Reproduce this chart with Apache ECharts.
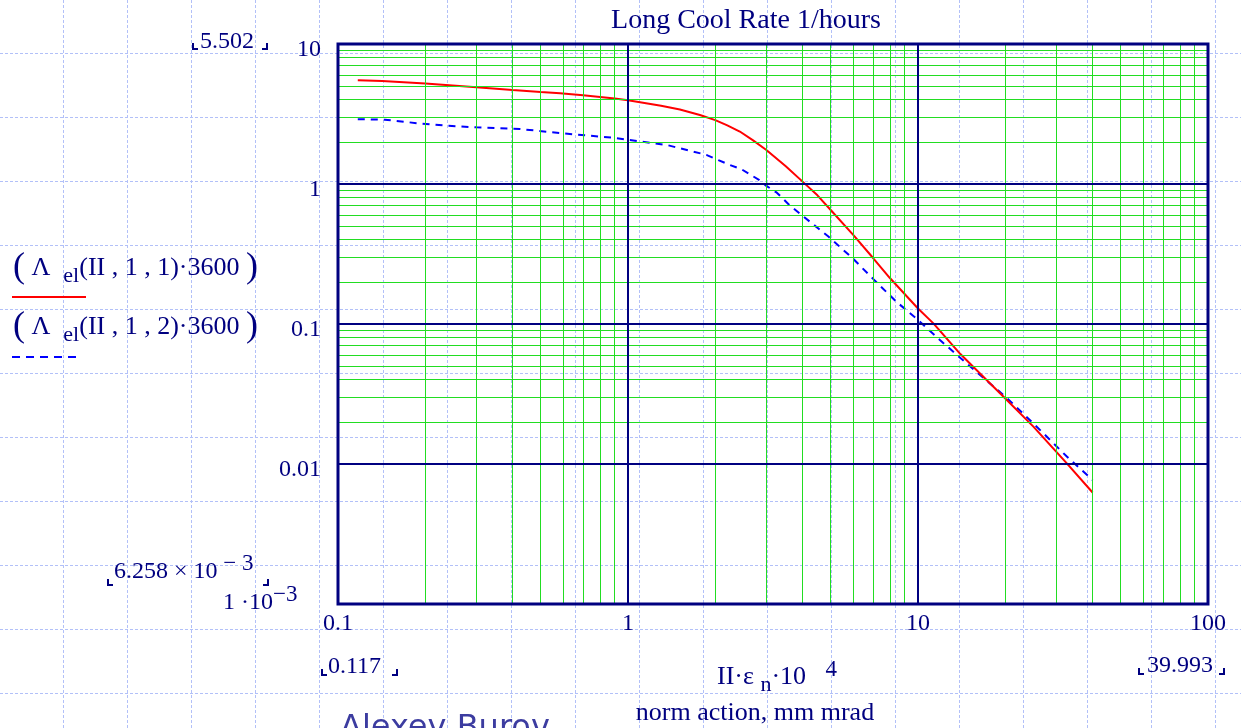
<!DOCTYPE html>
<html>
<head>
<meta charset="utf-8">
<script src="https://cdn.jsdelivr.net/npm/echarts@6/dist/echarts.min.js"></script>
<style>
html,body{margin:0;padding:0;background:#fff;}
#chart{width:1241px;height:728px;}
</style>
</head>
<body>
<div id="chart"></div>
<script>
// ---- data ----
const redX = [0.117, 0.142, 0.2, 0.3, 0.4, 0.5, 0.583, 0.7, 0.9, 1.0, 1.3, 1.51, 1.77, 2.0, 2.2, 2.43, 2.7, 3.0, 3.5, 4.0, 4.5, 5.0, 6.0, 7.0, 8.0, 10, 11.3, 14, 17, 20, 25, 32.6, 39.993];
const redY = [5.502, 5.45, 5.22, 4.91, 4.69, 4.54, 4.45, 4.30, 4.08, 3.96, 3.62, 3.41, 3.11, 2.86, 2.62, 2.37, 2.05, 1.75, 1.34, 1.04, 0.83, 0.652, 0.43, 0.296, 0.213, 0.129, 0.101, 0.061, 0.041, 0.0294, 0.0185, 0.0101, 0.006258];
const blueX = [0.117, 0.145, 0.187, 0.237, 0.3, 0.424, 0.6, 0.74, 0.89, 1.0, 1.36, 1.51, 1.67, 1.87, 2.05, 2.24, 2.47, 2.83, 3.0, 3.26, 3.6, 4.38, 4.92, 6.0, 7.0, 8.4, 10, 11.9, 14.7, 20, 25, 32.6, 39.993];
const blueY = [2.90, 2.88, 2.72, 2.61, 2.54, 2.47, 2.30, 2.21, 2.14, 2.07, 1.90, 1.80, 1.71, 1.61, 1.48, 1.37, 1.27, 1.07, 0.97, 0.867, 0.708, 0.509, 0.42, 0.29, 0.21, 0.145, 0.107, 0.0769, 0.0524, 0.0303, 0.0195, 0.0113, 0.0077];
const xDecades = [0.1, 1, 10];
const yDecades = [0.001, 0.01, 0.1, 1];
const xMajor = [1, 10];
const yMajor = [0.01, 0.1, 1];
const minorMults = [2, 3, 4, 5, 6, 7, 8, 9];
const titleText = 'Long Cool Rate 1/hours';
const xLabel2 = 'norm action, mm mrad';
const authorText = 'Alexey Burov';

const NAVY = '#000080';
const SERIF = '"Liberation Serif", "Times New Roman", serif';

const pair = (xs, ys) => xs.map((x, i) => [x, ys[i]]);
const minorX = [], minorY = [];
xDecades.forEach(d => minorMults.forEach(m => minorX.push({ xAxis: +(d * m).toPrecision(3) })));
yDecades.forEach(d => minorMults.forEach(m => minorY.push({ yAxis: +(d * m).toPrecision(3) })));
const majorLines = xMajor.map(v => ({ xAxis: v })).concat(yMajor.map(v => ({ yAxis: v })));

// worksheet background grid (decoration)
const PG = '#b2c0f8';
const pageGrid = [];
for (let x = 63; x < 1241; x += 64) pageGrid.push({ type: 'line', z: -10, silent: true, shape: { x1: x + 0.5, y1: 0, x2: x + 0.5, y2: 728 }, style: { stroke: PG, lineWidth: 1, lineDash: [3, 2] } });
for (let y = 53; y < 728; y += 64) pageGrid.push({ type: 'line', z: -10, silent: true, shape: { x1: 0, y1: y + 0.5, x2: 1241, y2: y + 0.5 }, style: { stroke: PG, lineWidth: 1, lineDash: [3, 2] } });

function bracket(x1, x2, y, h) {
  return [
    { type: 'polyline', shape: { points: [[x1, y - h], [x1, y], [x1 + 5, y]] }, style: { stroke: NAVY, lineWidth: 2, fill: null } },
    { type: 'polyline', shape: { points: [[x2 - 5, y], [x2, y], [x2, y - h]] }, style: { stroke: NAVY, lineWidth: 2, fill: null } }
  ];
}

const rich = {
  t: { fontFamily: SERIF, fontSize: 24, fill: NAVY },
  L: { fontFamily: SERIF, fontSize: 26, fill: NAVY },
  p: { fontFamily: SERIF, fontSize: 36, fill: NAVY },
  s: { fontFamily: SERIF, fontSize: 22, fill: NAVY, padding: [16, 0, 0, 0] },
  sup: { fontFamily: SERIF, fontSize: 23, fill: NAVY, padding: [0, 0, 16, 0] }
};

const chart = echarts.init(document.getElementById('chart'), null, { renderer: 'canvas' });
chart.setOption({
  animation: false,
  backgroundColor: '#ffffff',
  grid: { left: 338, top: 44, width: 870, height: 560, show: true, z: 10, borderColor: NAVY, borderWidth: 3, backgroundColor: 'transparent' },
  xAxis: {
    type: 'log', logBase: 10, min: 0.1, max: 100, splitNumber: 3,
    axisLine: { show: false }, axisTick: { show: false }, splitLine: { show: false },
    axisLabel: { color: NAVY, fontFamily: SERIF, fontSize: 24, margin: 8, formatter: v => String(+(+v).toPrecision(4)) }
  },
  yAxis: {
    type: 'log', logBase: 10, min: 0.001, max: 10, splitNumber: 4,
    axisLine: { show: false }, axisTick: { show: false }, splitLine: { show: false },
    axisLabel: {
      margin: 17,
      formatter: v => { const n = +(+v).toPrecision(4); return n < 0.005 ? '' : '{a|' + n + '}'; },
      rich: { a: { color: NAVY, fontFamily: SERIF, fontSize: 24, padding: [12, 0, 0, 0] } }
    }
  },
  series: [
    {
      name: 'minor', type: 'line', z: 1, silent: true, data: [], symbol: 'none',
      markLine: {
        silent: true, symbol: ['none', 'none'], label: { show: false }, animation: false,
        lineStyle: { color: '#22dd22', width: 1, type: 'solid' }, emphasis: { disabled: true },
        data: minorX.concat(minorY)
      }
    },
    {
      name: 'major', type: 'line', z: 2, silent: true, data: [], symbol: 'none',
      markLine: {
        silent: true, symbol: ['none', 'none'], label: { show: false }, animation: false,
        lineStyle: { color: NAVY, width: 2, type: 'solid' }, emphasis: { disabled: true },
        data: majorLines
      }
    },
    {
      name: 'blue', type: 'line', z: 3, data: pair(blueX, blueY), symbol: 'none',
      lineStyle: { color: '#0000ff', width: 2, type: [7, 6] }
    },
    {
      name: 'red', type: 'line', z: 4, data: pair(redX, redY), symbol: 'none',
      lineStyle: { color: '#ff0000', width: 2 }
    }
  ],
  graphic: pageGrid.concat([
    { type: 'text', x: 746, y: 21, style: { text: titleText, font: '28px ' + SERIF, fill: NAVY, align: 'center', verticalAlign: 'middle' } },
    // legend
    { type: 'text', x: 13, y: 268, style: { text: '{p|(}{L| Λ  }{s|el}{L|(II , 1 , 1)·3600 }{p|)}', rich: rich, verticalAlign: 'middle' } },
    { type: 'line', shape: { x1: 12, y1: 297, x2: 86, y2: 297 }, style: { stroke: '#ff0000', lineWidth: 2 } },
    { type: 'text', x: 13, y: 327, style: { text: '{p|(}{L| Λ  }{s|el}{L|(II , 1 , 2)·3600 }{p|)}', rich: rich, verticalAlign: 'middle' } },
    { type: 'line', shape: { x1: 12, y1: 357, x2: 78, y2: 357 }, style: { stroke: '#0000ff', lineWidth: 2, lineDash: [8, 6] } },
    // range annotations
    { type: 'text', x: 200, y: 54, style: { text: '5.502', font: '24px ' + SERIF, fill: NAVY, verticalAlign: 'bottom' } },
    ...bracket(193, 267, 49, 6),
    { type: 'text', x: 114, y: 591, style: { text: '{t|6.258 × 10}{sup| − 3}', rich: rich, verticalAlign: 'bottom' } },
    ...bracket(108, 268, 585, 6),
    { type: 'text', x: 223, y: 622, style: { text: '{t|1 ·10}{sup|−3}', rich: rich, verticalAlign: 'bottom' } },
    { type: 'text', x: 328, y: 679, style: { text: '0.117', font: '24px ' + SERIF, fill: NAVY, verticalAlign: 'bottom' } },
    ...bracket(322, 397, 675, 6),
    { type: 'text', x: 1147, y: 678, style: { text: '39.993', font: '24px ' + SERIF, fill: NAVY, verticalAlign: 'bottom' } },
    ...bracket(1139, 1224, 674, 6),
    { type: 'text', x: 717, y: 697, style: { text: '{L|II·ε }{s|n}{L|·10   }{sup|4}', rich: rich, verticalAlign: 'bottom' } },
    { type: 'text', x: 755, y: 726, style: { text: xLabel2, font: '26px ' + SERIF, fill: NAVY, align: 'center', verticalAlign: 'bottom' } },
    { type: 'text', x: 340, y: 713, style: { text: authorText, font: '32px "DejaVu Sans", sans-serif', fill: '#3c3ca0', verticalAlign: 'top' } }
  ])
});
</script>
</body>
</html>
